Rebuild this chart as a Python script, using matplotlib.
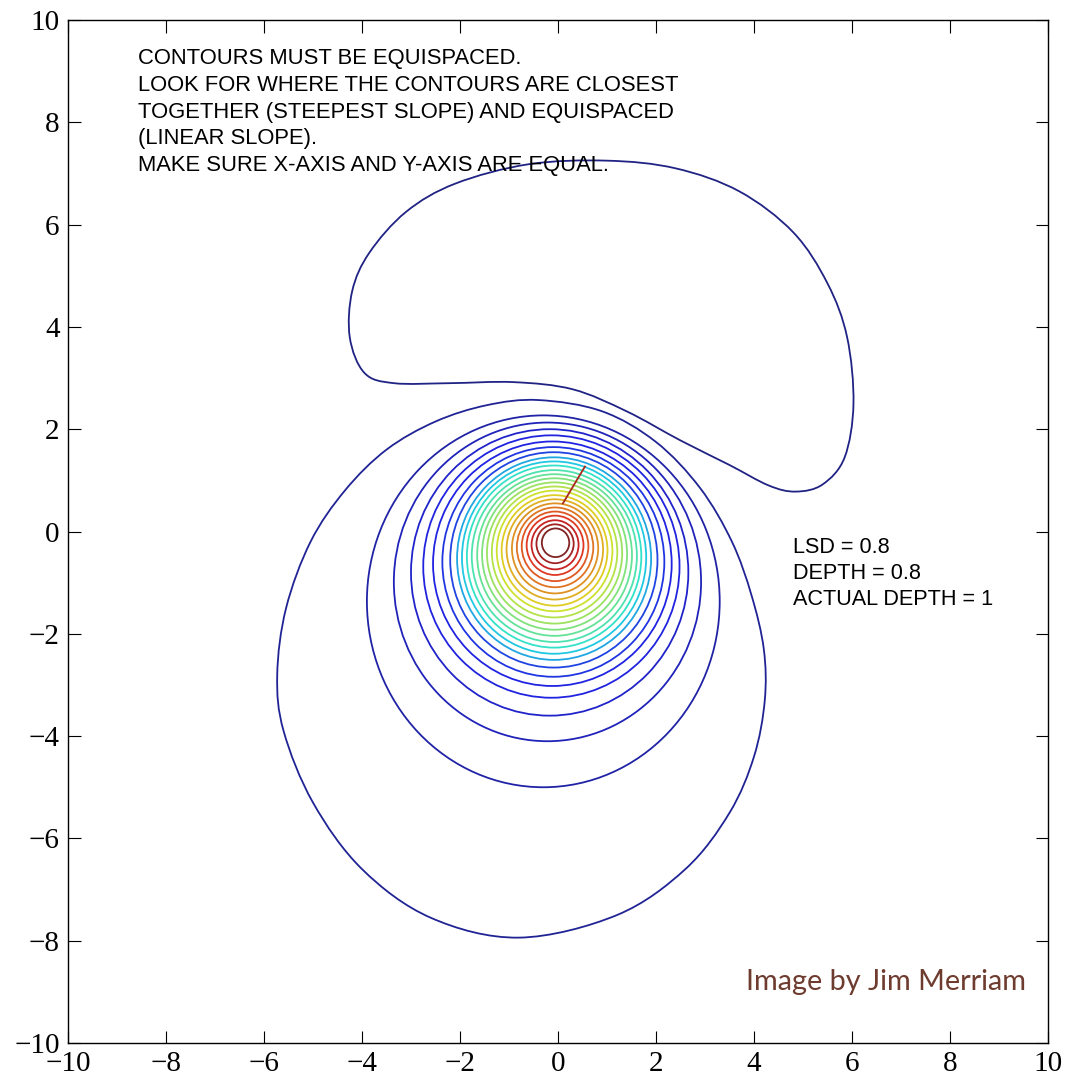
import numpy as np
import matplotlib
matplotlib.use('Agg')
import matplotlib.pyplot as plt
from matplotlib.patches import Ellipse, PathPatch
from matplotlib.path import Path

#%% DONNEES

# anneaux presque circulaires, du centre vers l'exterieur : bords gauche/droit/bas/haut
ring_left = [-0.33, -0.44, -0.54, -0.64, -0.74, -0.84, -0.94, -1.05, -1.15, -1.25,
             -1.35, -1.45, -1.55, -1.65, -1.76, -1.86, -1.96, -2.06, -2.20, -2.36,
             -2.55, -2.75, -3.00, -3.35, -3.90]
ring_right = [0.23, 0.32, 0.42, 0.52, 0.62, 0.72, 0.82, 0.92, 1.01, 1.11,
              1.21, 1.31, 1.41, 1.51, 1.61, 1.70, 1.80, 1.90, 2.03, 2.17,
              2.32, 2.48, 2.66, 2.92, 3.30]
ring_bottom = [-0.50, -0.62, -0.74, -0.85, -0.97, -1.09, -1.21, -1.33, -1.45, -1.56,
               -1.68, -1.80, -1.92, -2.04, -2.16, -2.27, -2.39, -2.51, -2.66, -2.84,
               -3.02, -3.25, -3.60, -4.10, -5.00]
ring_top = [0.06, 0.14, 0.22, 0.31, 0.39, 0.47, 0.55, 0.63, 0.71, 0.80,
            0.88, 0.96, 1.04, 1.12, 1.20, 1.29, 1.37, 1.45, 1.55, 1.65,
            1.76, 1.88, 2.00, 2.13, 2.27]

# grande boucle exterieure (sens horaire depuis le haut)
loop_x = [-0.4, 0.9, 2.0, 2.9, 3.55, 3.95, 4.2, 4.22, 4.0, 3.5, 2.6, 1.2,
          -0.8, -2.6, -4.0, -5.0, -5.6, -5.73, -5.55, -5.05, -4.35, -3.5, -2.5, -1.45]
loop_y = [2.57, 2.35, 1.75, 0.85, -0.2, -1.25, -2.3, -3.3, -4.4, -5.5, -6.6, -7.5,
          -7.94, -7.55, -6.6, -5.3, -3.9, -2.8, -1.5, -0.2, 0.8, 1.6, 2.15, 2.47]

# contour en haricot (en haut)
bean_x = [1.0, 2.4, 3.7, 4.8, 5.5, 5.9, 6.03, 5.85, 5.4, 4.85, 4.3, 3.5, 2.5, 1.4, 0.3,
          -0.9, -2.2, -3.35, -3.95, -4.25, -4.2, -3.85, -3.1, -2.1, -0.6]
bean_y = [7.25, 7.1, 6.65, 5.85, 4.85, 3.8, 2.5, 1.45, 0.92, 0.78, 0.9, 1.3, 1.78, 2.35, 2.78,
          2.92, 2.9, 2.9, 3.1, 3.8, 4.7, 5.45, 6.25, 6.8, 7.18]

# petit segment rouge
seg_x = [0.10, 0.55]
seg_y = [0.55, 1.27]

ticks = list(range(-10, 11, 2))

notes = ["CONTOURS MUST BE EQUISPACED.",
         "LOOK FOR WHERE THE CONTOURS ARE CLOSEST",
         "TOGETHER (STEEPEST SLOPE) AND EQUISPACED",
         "(LINEAR SLOPE).",
         "MAKE SURE X-AXIS AND Y-AXIS ARE EQUAL."]
params = ["LSD = 0.8", "DEPTH = 0.8", "ACTUAL DEPTH = 1"]


#%% FONCTIONS

def courbe_fermee(xs, ys):
    # courbe lisse fermee passant par les points (beziers cubiques)
    P = np.column_stack([xs, ys])
    n = len(P)
    verts = [P[0]]
    codes = [Path.MOVETO]
    for i in range(n):
        p0, p1, p2, p3 = P[i - 1], P[i], P[(i + 1) % n], P[(i + 2) % n]
        verts += [p1 + (p2 - p0) / 6, p2 - (p3 - p1) / 6, p2]
        codes += [Path.CURVE4] * 3
    return Path(verts, codes)


#%% GRAPHE

fig = plt.figure(figsize=(10.78, 10.81), dpi=100)
ax = fig.add_axes([68/1078, 38/1081, 980/1078, 1023/1081])

# couleurs jet : centre rouge fonce -> bleu marine a l'exterieur
pos = np.concatenate([np.linspace(1.0, 0.3, 18), np.linspace(0.17, 0.0, 9)])
couleurs = 0.75 * plt.cm.jet(pos)[:, :3] + 0.25 * np.array([0.5, 0.55, 0.55])

for i in range(len(ring_left)):
    cx = (ring_left[i] + ring_right[i]) / 2
    cy = (ring_bottom[i] + ring_top[i]) / 2
    ax.add_patch(Ellipse((cx, cy), ring_right[i] - ring_left[i], ring_top[i] - ring_bottom[i],
                         fill=False, edgecolor=couleurs[i], lw=1.3))

ax.add_patch(PathPatch(courbe_fermee(loop_x, loop_y), fill=False, edgecolor=couleurs[-2], lw=1.3))
ax.add_patch(PathPatch(courbe_fermee(bean_x, bean_y), fill=False, edgecolor=couleurs[-1], lw=1.3))
ax.plot(seg_x, seg_y, color='#a8281e', lw=1.3)

ax.text(-8.57, 9.45, "\n".join(notes), fontsize=15.8, family='Liberation Sans',
        va='top', ha='left', linespacing=1.36)
ax.text(4.8, -0.1, "\n".join(params), fontsize=15.6, family='Liberation Sans',
        va='top', ha='left', linespacing=1.33)
ax.text(3.84, -8.97, "Image by Jim Merriam", fontsize=20.8, family='Lato',
        color='#6e3b2f', va='baseline', ha='left')

ax.set_xlim(-10, 10)
ax.set_ylim(-10, 10)
ax.set_xticks(ticks)
ax.set_yticks(ticks)
ax.tick_params(direction='in', top=True, right=True, length=9, width=0.8,
               labelsize=21, pad=6)
for lab in ax.get_xticklabels() + ax.get_yticklabels():
    lab.set_family('Liberation Serif')
for s in ax.spines.values():
    s.set_linewidth(1.0)

plt.savefig('out.png', dpi=100)
